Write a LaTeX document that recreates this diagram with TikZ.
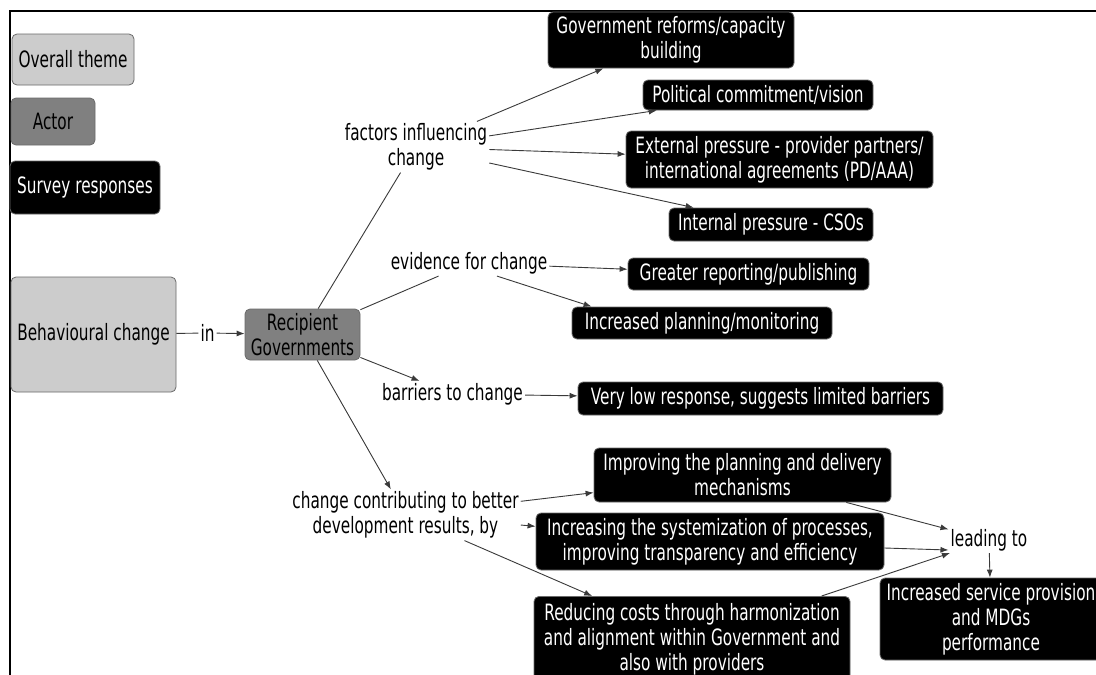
\documentclass[tikz,border=0pt]{standalone}
\usepackage{fontspec}
\setmainfont{DejaVu Sans}[FakeStretch=0.68]
\usetikzlibrary{arrows.meta}
\definecolor{themegray}{HTML}{CCCCCC}
\definecolor{actorgray}{HTML}{808080}
\definecolor{bordergray}{HTML}{6A6A6A}
\definecolor{edgegray}{HTML}{3A3A3A}
\begin{document}
\begin{tikzpicture}[x=1pt,y=-1pt,
  font=\fontsize{22.5}{25}\selectfont,
  box/.style={draw=bordergray, rounded corners=5pt, inner sep=0pt, align=center, line width=0.8pt},
  theme/.style={box, fill=themegray},
  actor/.style={box, fill=actorgray},
  resp/.style={box, fill=black, text=white},
  lbl/.style={inner sep=2pt, align=center},
  conn/.style={draw=edgegray, line width=0.9pt},
  arr/.style={conn, -{Latex[length=8pt,width=6pt]}}]
\useasboundingbox (0,0) rectangle (1096,675);
\clip (0,0) rectangle (1096,675);
\fill[white] (0,0) rectangle (1096,675);
% frame
\draw[line width=2pt] (9,10.5) -- (1096,10.5);
\draw[line width=2pt] (9.5,10) -- (9.5,675);

% legend
\node[theme, minimum width=122pt, minimum height=51pt] (theme) at (73,59.5) {Overall theme};
\node[actor, minimum width=84pt, minimum height=47pt] (actor) at (53,121.5) {Actor};
\node[resp, minimum width=150pt, minimum height=53pt] (survey) at (85,187.5) {Survey responses};

% main
\node[theme, minimum width=165pt, minimum height=115pt] (behav) at (93.5,334.5) {Behavioural change};
\node[actor, minimum width=115pt, minimum height=51pt] (recip) at (302.5,334.5) {Recipient\\Governments};
\node[lbl] (in) at (207.5,333) {in};

% labels
\node[lbl] (factors) at (416,147) {factors influencing\\change};
\node[lbl] (evidence) at (469,263) {evidence for change};
\node[lbl] (barriers) at (452.5,394) {barriers to change};
\node[lbl] (change) at (405.5,515) {change contributing to better\\development results, by};
\node[lbl] (leading) at (989,540) {leading to};

% responses
\node[resp, minimum width=246pt, minimum height=56pt] (govref) at (671,40) {Government reforms/capacity\\building};
\node[resp, minimum width=230pt, minimum height=30pt] (polit) at (758,95) {Political commitment/vision};
\node[resp, minimum width=307pt, minimum height=57pt] (extern) at (779.5,159.5) {External pressure - provider partners/\\international agreements (PD/AAA)};
\node[resp, minimum width=204pt, minimum height=33pt] (intern) at (771,224.5) {Internal pressure - CSOs};
\node[resp, minimum width=241pt, minimum height=32pt] (greater) at (748.5,274) {Greater reporting/publishing};
\node[resp, minimum width=260pt, minimum height=32pt] (incplan) at (702,323) {Increased planning/monitoring};
\node[resp, minimum width=365pt, minimum height=33pt] (verylow) at (760.5,398.5) {Very low response, suggests limited barriers};
\node[resp, minimum width=297pt, minimum height=54pt] (improv) at (742.5,475) {Improving the planning and delivery\\mechanisms};
\node[resp, minimum width=348pt, minimum height=57pt] (increasing) at (710,541.5) {Increasing the systemization of processes,\\improving transparency and efficiency};
\node[resp, minimum width=316pt, minimum height=86pt, anchor=north] (reducing) at (692,596) {Reducing costs through harmonization\\and alignment within Government and\\also with providers};
\node[resp, minimum width=222pt, minimum height=82pt] (incserv) at (991,619) {Increased service provision\\and MDGs\\performance};

% connectors
\draw[conn] (behav) -- (in);
\draw[arr] (in) -- (recip);
\draw[conn] (recip) -- (factors);
\draw[conn] (recip) -- (evidence);
\draw[arr] (recip) -- (barriers);
\draw[arr] (recip) -- (change);

\draw[arr] (factors) -- (govref);
\draw[arr] (factors) -- (polit);
\draw[arr] (factors) -- (extern);
\draw[arr] (factors) -- (intern);

\draw[arr] (evidence) -- (greater);
\draw[arr] ([xshift=28pt]evidence.south) -- ([xshift=20pt]incplan.north west);

\draw[arr] (barriers) -- (verylow);

\draw[arr] (change) -- (improv);
\draw[arr] (change) -- (increasing);
\draw[arr] (change) -- (reducing);

\draw[arr] (improv) -- (leading);
\draw[arr] ([yshift=-6.5pt]increasing.east) -- ([yshift=-10pt]leading.west);
\draw[arr] (reducing) -- (leading);
\draw[arr] (leading) -- (incserv);
\end{tikzpicture}
\end{document}
